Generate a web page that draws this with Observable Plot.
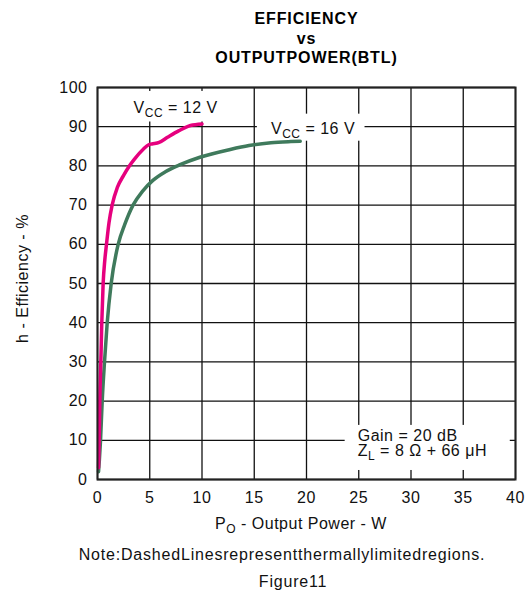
<!DOCTYPE html>
<html>
<head>
<meta charset="utf-8">
<script src="https://cdn.jsdelivr.net/npm/d3@7"></script>
<script src="https://cdn.jsdelivr.net/npm/@observablehq/plot@0.6"></script>
<style>
  html, body { margin: 0; padding: 0; background: #fff; }
</style>
</head>
<body>
<div id="chart"></div>
<script>
// ---- data ----
const p12 = [0.1, 0.16, 0.22, 0.32, 0.41, 0.54, 0.7, 0.86, 1.1, 1.4, 1.9, 2.5, 3.0, 3.5, 4.4, 4.9, 5.2, 5.9, 6.7, 7.8, 8.9, 10.0];
const e12 = [3, 10, 20, 30, 40, 50, 56, 60, 65.5, 70, 74.5, 77.6, 79.8, 81.6, 84.3, 85.4, 85.6, 86, 87.3, 89, 90.3, 90.7];
const p16 = [0.1, 0.18, 0.29, 0.45, 0.67, 0.93, 1.31, 1.98, 2.6, 3.4, 4.3, 5.3, 6.5, 7.9, 9.8, 12.7, 14.5, 16.6, 18.5, 19.4];
const e16 = [2, 5, 10, 20, 30, 40, 50, 60, 65, 70, 73.5, 76.3, 78.5, 80.3, 82.2, 84.2, 85.2, 85.9, 86.2, 86.3];
const xTicks = [0, 5, 10, 15, 20, 25, 30, 35, 40];
const yTicks = [0, 10, 20, 30, 40, 50, 60, 70, 80, 90, 100];
const seriesNames = ["V_{CC} = 12 V", "V_{CC} = 16 V"];
const seriesColors = ["#e6007e", "#3f7a5c"];
const titleLines = ["EFFICIENCY", "vs", "OUTPUTPOWER(BTL)"];
const xLabel = "P_{O} - Output Power - W";
const yLabel = "h - Efficiency - %";
const noteText = "Note:DashedLinesrepresentthermallylimitedregions.";
const figText = "Figure11";
const annoLines = ["Gain = 20 dB", "Z_{L} = 8 Ω + 66 μH"];

const d12 = p12.map((p, i) => ({p, e: e12[i]}));
const d16 = p16.map((p, i) => ({p, e: e16[i]}));

const font = "'Liberation Sans', Arial, Helvetica, sans-serif";
const T = {fontSize: 16, fill: "#111", textAnchor: "middle", lineAnchor: "middle"};

const plot = Plot.plot({
  width: 531,
  height: 593,
  marginLeft: 97,
  marginRight: 16,
  marginTop: 87,
  marginBottom: 114,
  style: {fontFamily: font, fontSize: "16px", color: "#111", background: "#fff", letterSpacing: "0.5px"},
  x: {domain: [0, 40], ticks: xTicks, tickSize: 0, tickPadding: 12, label: null},
  y: {domain: [0, 100], ticks: yTicks, tickSize: 0, tickPadding: 10, label: null},
  marks: [
    Plot.gridX(xTicks, {stroke: "#111", strokeOpacity: 1, strokeWidth: 1.3}),
    Plot.gridY(yTicks, {stroke: "#111", strokeOpacity: 1, strokeWidth: 1.3}),
    // white backgrounds behind labels (grid interrupted there)
    Plot.rect([
      {x1: 23.7, x2: 39.5, y1: 2.3, y2: 13.8},
      {x1: 2.9, x2: 11.6, y1: 91.2, y2: 99},
      {x1: 15.3, x2: 25.6, y1: 86.3, y2: 93.2}
    ], {x1: "x1", x2: "x2", y1: "y1", y2: "y2", fill: "#fff"}),
    Plot.line(d16, {x: "p", y: "e", stroke: seriesColors[1], strokeWidth: 3.5, curve: "monotone-x"}),
    Plot.line(d12, {x: "p", y: "e", stroke: seriesColors[0], strokeWidth: 3.5, curve: "monotone-x"}),
    Plot.frame({stroke: "#222", strokeWidth: 2}),
    // series labels
    Plot.text([{x: 3.45, y: 94.8, t: seriesNames[0]}, {x: 16.6, y: 89.5, t: seriesNames[1]}],
      {x: "x", y: "y", text: "t", ...T, textAnchor: "start"}),
    // annotation
    Plot.text([{x: 24.9, y: 11.2, t: annoLines[0]}, {x: 24.9, y: 7.2, t: annoLines[1]}],
      {x: "x", y: "y", text: "t", ...T, textAnchor: "start"}),
    // title
    Plot.text([titleLines[0]], {frameAnchor: "top", dy: -68.7, ...T, fontWeight: "bold", fill: "#000", className: "ttl"}),
    Plot.text([titleLines[1]], {frameAnchor: "top", dy: -48.5, ...T, fontWeight: "bold", fill: "#000", className: "ttl"}),
    Plot.text([titleLines[2]], {frameAnchor: "top", dy: -29.5, ...T, fontWeight: "bold", fill: "#000", className: "ttl"}),
    // bottom texts
    Plot.text([xLabel], {frameAnchor: "bottom", dy: 44, dx: -5.5, ...T}),
    Plot.text([noteText], {frameAnchor: "bottom", dy: 75, dx: -24.5, ...T, className: "note"}),
    Plot.text([figText], {frameAnchor: "bottom", dy: 102, dx: -13.5, ...T, className: "note"}),
    // y label
    Plot.text([yLabel], {frameAnchor: "left", dx: -75, dy: -5, rotate: -90, ...T}),
    Plot.axisX({ticks: xTicks, tickSize: 0, tickPadding: 12, fontSize: 16, fill: "#111", label: null}),
    Plot.axisY({ticks: yTicks, tickSize: 0, tickPadding: 10, fontSize: 16, fill: "#111", label: null})
  ]
});

// subscripts: turn "_{..}" into lowered, smaller tspans
d3.select(plot).selectAll("text").each(function() {
  const t = this.textContent;
  if (!t.includes("_{")) return;
  const parts = t.split(/(_\{[^}]*\})/).filter(s => s.length);
  this.textContent = "";
  let shifted = false;
  for (const part of parts) {
    const ts = d3.select(this).append("tspan");
    if (part.startsWith("_{")) {
      ts.text(part.slice(2, -1)).attr("font-size", "0.75em").attr("dy", "4");
      shifted = true;
    } else {
      ts.text(part);
      if (shifted) { ts.attr("dy", "-4"); shifted = false; }
    }
  }
});
d3.select(plot).selectAll(".ttl text").style("letter-spacing", "0.9px");
d3.select(plot).selectAll(".note text").style("letter-spacing", "0.8px");

document.getElementById("chart").appendChild(plot);
</script>
</body>
</html>
